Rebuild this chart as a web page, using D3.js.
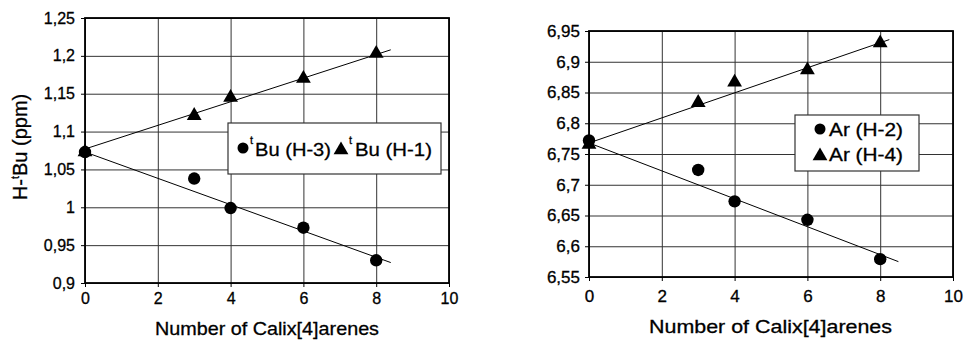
<!DOCTYPE html>
<meta charset="utf-8">
<script src="https://d3js.org/d3.v7.min.js"></script>
<style>
  body { margin: 0; background: #fff; }
  text { font-family: "Liberation Sans", Arial, sans-serif; fill: #000; stroke: #000; stroke-width: 0.3px; }
</style>
<body>
<svg width="965" height="344"></svg>
<script>
// values
var calix = [0, 3, 4, 6, 8];
var tBuH3 = [1.073, 1.038, 0.999, 0.973, 0.930];
var tBuH1 = [1.075, 1.123, 1.147, 1.172, 1.205];
var arH2 = [6.772, 6.724, 6.673, 6.643, 6.579];
var arH4 = [6.768, 6.836, 6.869, 6.889, 6.933];

// trend line end points (x, y)
var tBuH3Fit = [[0, 1.073], [8.4, 0.927]];
var tBuH1Fit = [[0, 1.077], [8.4, 1.208]];
var arH2Fit = [[0, 6.768], [8.5, 6.575]];
var arH4Fit = [[0, 6.768], [8.25, 6.936]];

var xTicks = [0, 2, 4, 6, 8, 10];
var leftYTicks = [0.9, 0.95, 1, 1.05, 1.1, 1.15, 1.2, 1.25];
var leftYLabels = ["0,9", "0,95", "1", "1,05", "1,1", "1,15", "1,2", "1,25"];
var rightYTicks = [6.55, 6.6, 6.65, 6.7, 6.75, 6.8, 6.85, 6.9, 6.95];
var rightYLabels = ["6,55", "6,6", "6,65", "6,7", "6,75", "6,8", "6,85", "6,9", "6,95"];

var svg = d3.select("svg");
var tri = d3.symbol().type(d3.symbolTriangle).size(95);

function panel(o) {
  var g = svg.append("g").attr("transform", "translate(" + o.left + "," + o.top + ")");
  var x = d3.scaleLinear().domain([0, 10]).range([0, o.width]);
  var y = d3.scaleLinear().domain(o.yDomain).range([o.height, 0]);

  // grid
  g.append("g")
    .call(d3.axisLeft(y).tickValues(o.yTicks).tickSize(-o.width).tickFormat(""))
    .call(function(s) { s.select(".domain").remove(); s.selectAll("line").attr("stroke", "#333").attr("stroke-width", 1); });
  g.append("g")
    .attr("transform", "translate(0," + o.height + ")")
    .call(d3.axisBottom(x).tickValues(xTicks).tickSize(o.height).tickFormat(""))
    .call(function(s) { s.select(".domain").remove(); s.selectAll("line").attr("stroke", "#333").attr("y2", -o.height); });

  g.append("rect")
    .attr("width", o.width).attr("height", o.height)
    .attr("fill", "none").attr("stroke", "#000").attr("stroke-width", 1.8);

  // axes
  var ya = g.append("g")
    .call(d3.axisLeft(y).tickValues(o.yTicks).tickSize(4).tickPadding(o.yPad)
      .tickFormat(function(d, i) { return o.yLabels[i]; }));
  ya.select(".domain").remove();
  ya.selectAll("text").attr("font-size", o.tickFont).attr("font-family", null);

  var xa = g.append("g")
    .attr("transform", "translate(0," + o.height + ")")
    .call(d3.axisBottom(x).tickValues(xTicks).tickSize(4).tickPadding(o.xPad));
  xa.select(".domain").remove();
  xa.selectAll("text").attr("font-size", o.tickFont).attr("font-family", null);

  // trend lines
  var line = d3.line().x(function(d) { return x(d[0]); }).y(function(d) { return y(d[1]); });
  [o.fitA, o.fitB].forEach(function(f) {
    g.append("path").attr("d", line(f)).attr("fill", "none").attr("stroke", "#000").attr("stroke-width", 1);
  });

  // points
  g.selectAll(".circ").data(o.circles).enter().append("circle")
    .attr("cx", function(d, i) { return x(calix[i]); })
    .attr("cy", function(d) { return y(d); })
    .attr("r", 6.2).attr("fill", "#000");
  g.selectAll(".tri").data(o.triangles).enter().append("path")
    .attr("d", tri)
    .attr("transform", function(d, i) { return "translate(" + x(calix[i]) + "," + (y(d) + 1.5) + ")"; })
    .attr("fill", "#000");

  // x title
  g.append("text")
    .attr("x", o.xTitle[0]).attr("y", o.height + o.xTitle[1])
    .attr("font-size", 19)
    .attr("textLength", o.xTitle[2]).attr("lengthAdjust", "spacingAndGlyphs")
    .text("Number of Calix[4]arenes");
  return g;
}

var left = panel({
  left: 85, top: 18, width: 364, height: 265,
  yDomain: [0.9, 1.25], yTicks: leftYTicks, yLabels: leftYLabels,
  circles: tBuH3, triangles: tBuH1, fitA: tBuH3Fit, fitB: tBuH1Fit,
  tickFont: 16, yPad: 6, xPad: 6, xTitle: [70, 52, 224]
});

var right = panel({
  left: 589, top: 31, width: 364, height: 246,
  yDomain: [6.55, 6.95], yTicks: rightYTicks, yLabels: rightYLabels,
  circles: arH2, triangles: arH4, fitA: arH2Fit, fitB: arH4Fit,
  tickFont: 17, yPad: 5, xPad: 9, xTitle: [60, 56, 243]
});

// left y title
var yt = svg.append("text")
  .attr("transform", "translate(27,147) rotate(-90)")
  .attr("text-anchor", "middle")
  .attr("font-size", 20);
yt.append("tspan").text("H-");
yt.append("tspan").attr("font-size", 11).attr("dy", -8).text("t");
yt.append("tspan").attr("dy", 8).text("Bu (ppm)");

// left legend
var lg = svg.append("g").attr("transform", "translate(228,123)");
lg.append("rect").attr("width", 213).attr("height", 51)
  .attr("fill", "#fff").attr("stroke", "#333").attr("stroke-width", 1.2);
lg.append("circle").attr("cx", 15).attr("cy", 25).attr("r", 5.5).attr("fill", "#000");
lg.append("text").attr("x", 22).attr("y", 21).attr("font-size", 11).text("t");
lg.append("text").attr("x", 27).attr("y", 33).attr("font-size", 19)
  .attr("textLength", 76).attr("lengthAdjust", "spacingAndGlyphs").text("Bu (H-3)");
lg.append("path").attr("d", tri).attr("transform", "translate(113,27)").attr("fill", "#000");
lg.append("text").attr("x", 121).attr("y", 21).attr("font-size", 11).text("t");
lg.append("text").attr("x", 127).attr("y", 33).attr("font-size", 19)
  .attr("textLength", 77).attr("lengthAdjust", "spacingAndGlyphs").text("Bu (H-1)");

// right legend
var rg = svg.append("g").attr("transform", "translate(795,115)");
rg.append("rect").attr("width", 124).attr("height", 56)
  .attr("fill", "#fff").attr("stroke", "#333").attr("stroke-width", 1.2);
rg.append("circle").attr("cx", 25).attr("cy", 14).attr("r", 5.5).attr("fill", "#000");
rg.append("text").attr("x", 34).attr("y", 21).attr("font-size", 18)
  .attr("textLength", 74).attr("lengthAdjust", "spacingAndGlyphs").text("Ar (H-2)");
rg.append("path").attr("d", tri).attr("transform", "translate(25,41)").attr("fill", "#000");
rg.append("text").attr("x", 34).attr("y", 46).attr("font-size", 18)
  .attr("textLength", 74).attr("lengthAdjust", "spacingAndGlyphs").text("Ar (H-4)");
</script>
</body>
